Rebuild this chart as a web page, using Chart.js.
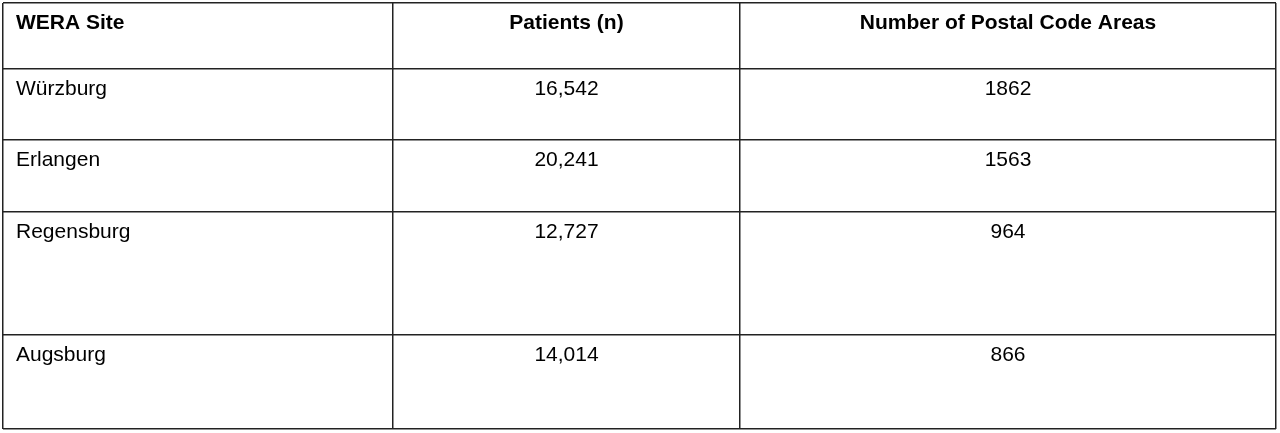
<!DOCTYPE html>
<html><head><meta charset="utf-8">
<script src="https://cdn.jsdelivr.net/npm/chart.js@4"></script>
<style>html,body{margin:0;padding:0;background:#fff}</style>
</head><body>
<canvas id="c" width="1280" height="433"></canvas>
<script>
const headers = ["WERA Site", "Patients (n)", "Number of Postal Code Areas"];
const sites = ["Würzburg", "Erlangen", "Regensburg", "Augsburg"];
const patients = ["16,542", "20,241", "12,727", "14,014"];
const postalAreas = ["1862", "1563", "964", "866"];

const colEdges = [3, 393, 740, 1276];
const rowEdges = [3, 69, 140, 212, 335, 429];

const tablePlugin = {
  id: 'tableText',
  afterDraw(chart) {
    const ctx = chart.ctx, xs = chart.scales.x, ys = chart.scales.y;
    const rows = [headers].concat(sites.map((s, i) => [s, patients[i], postalAreas[i]]));
    ctx.save();
    ctx.fillStyle = '#000';
    ctx.textBaseline = 'middle';
    rows.forEach((r, ri) => {
      const yTop = ys.getPixelForValue(rowEdges[ri]);
      const y = yTop + 20;
      ctx.font = (ri === 0 ? 'bold ' : '') + '21px "Liberation Sans", Arial, sans-serif';
      r.forEach((t, ci) => {
        const x0 = xs.getPixelForValue(colEdges[ci]), x1 = xs.getPixelForValue(colEdges[ci + 1]);
        if (ci === 0) { ctx.textAlign = 'left'; ctx.fillText(t, x0 + 13, y); }
        else { ctx.textAlign = 'center'; ctx.fillText(t, (x0 + x1) / 2, y); }
      });
    });
    ctx.restore();
  }
};

const gridOpts = (edges, rev) => ({
  type: 'linear', min: edges[0], max: edges[edges.length - 1], reverse: !!rev,
  afterBuildTicks: a => { a.ticks = edges.map(v => ({ value: v })); },
  ticks: { display: false },
  grid: { color: '#222', lineWidth: 1.5, drawTicks: false },
  border: { display: false }
});

new Chart(document.getElementById('c'), {
  type: 'scatter',
  data: { datasets: [{ data: [] }] },
  options: {
    responsive: false, animation: false,
    layout: { padding: { left: 3, right: 4, top: 3, bottom: 4 } },
    plugins: { legend: { display: false }, tooltip: { enabled: false } },
    scales: { x: gridOpts(colEdges, false), y: gridOpts(rowEdges, true) }
  },
  plugins: [tablePlugin]
});
</script>
</body></html>
